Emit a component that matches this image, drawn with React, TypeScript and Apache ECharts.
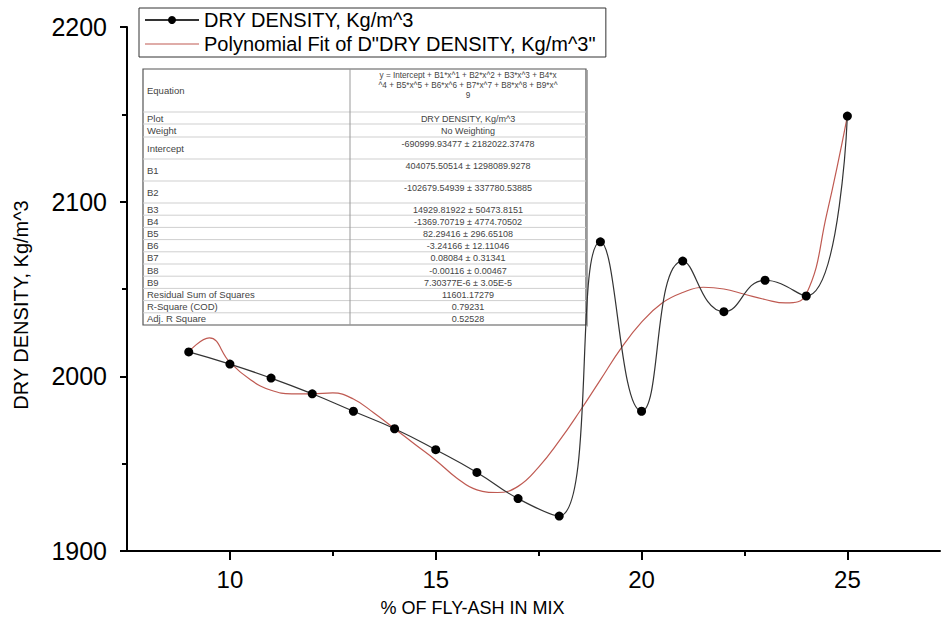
import React, { useEffect, useRef } from "react";
import * as echarts from "echarts";

// ---- data ----
const flyAshPercent = [9, 10, 11, 12, 13, 14, 15, 16, 17, 18, 19, 20, 21, 22, 23, 24, 25];
const dryDensity = [2014, 2007, 1999, 1990, 1980, 1970, 1958, 1945, 1930, 1920, 2077, 1980, 2066, 2037, 2055, 2046, 2149];

// polynomial fit curve
const fitX = [9, 9.5, 10, 10.5, 11, 11.5, 12, 12.5, 13, 13.5, 14, 14.5, 15, 15.5, 16, 16.5, 17, 17.5, 18, 18.5, 19, 19.5, 20, 20.5, 21, 21.5, 22, 22.5, 23, 23.5, 24, 24.5, 25];
const fitY = [2014, 2022, 2008, 1998, 1992, 1990, 1990, 1990.5, 1987, 1979, 1970, 1961, 1952, 1942, 1935, 1933.5, 1937, 1948, 1963, 1980, 1998, 2016, 2031, 2042, 2048, 2051, 2050, 2047, 2044, 2042, 2047, 2093, 2149];

const xMajorTicks = [10, 15, 20, 25];
const xMinorTicks = [12.5, 17.5, 22.5];

const seriesName = "DRY DENSITY, Kg/m^3";
const fitName = 'Polynomial Fit of D"DRY DENSITY, Kg/m^3"';

const tableLabels = [
  "Equation", "Plot", "Weight", "Intercept", "B1", "B2", "B3", "B4", "B5", "B6", "B7", "B8", "B9",
  "Residual Sum of Squares", "R-Square (COD)", "Adj. R Square",
];
const tableValues = [
  "y = Intercept + B1*x^1 + B2*x^2 + B3*x^3 + B4*x\n^4 + B5*x^5 + B6*x^6 + B7*x^7 + B8*x^8 + B9*x^\n9",
  "DRY DENSITY, Kg/m^3",
  "No Weighting",
  "-690999.93477 ± 2182022.37478",
  "404075.50514 ± 1298089.9278",
  "-102679.54939 ± 337780.53885",
  "14929.81922 ± 50473.8151",
  "-1369.70719 ± 4774.70502",
  "82.29416 ± 296.65108",
  "-3.24166 ± 12.11046",
  "0.08084 ± 0.31341",
  "-0.00116 ± 0.00467",
  "7.30377E-6 ± 3.05E-5",
  "11601.17279",
  "0.79231",
  "0.52528",
];

// table layout (pixels)
const rowEdges = [69, 112, 124, 137, 159, 181, 203, 215.2, 227.4, 239.6, 251.8, 264, 276.2, 288.4, 300.6, 312.8, 325];
const TABLE_LEFT = 143;
const TABLE_DIV = 350;
const TABLE_RIGHT = 586;
const FONT = "Arial, 'Liberation Sans', sans-serif";

function buildTable() {
  const children: any[] = [];
  children.push({
    type: "rect",
    shape: { x: TABLE_LEFT, y: rowEdges[0], width: TABLE_RIGHT - TABLE_LEFT, height: rowEdges[rowEdges.length - 1] - rowEdges[0] },
    style: { fill: "#fff", stroke: "#555", lineWidth: 1.2 },
  });
  for (let i = 1; i < rowEdges.length - 1; i++) {
    children.push({
      type: "line",
      shape: { x1: TABLE_LEFT, y1: rowEdges[i], x2: TABLE_RIGHT, y2: rowEdges[i] },
      style: { stroke: "#cfcfcf", lineWidth: 1 },
    });
  }
  children.push({
    type: "line",
    shape: { x1: TABLE_DIV, y1: rowEdges[0], x2: TABLE_DIV, y2: rowEdges[rowEdges.length - 1] },
    style: { stroke: "#999", lineWidth: 1 },
  });
  children.push({
    type: "line",
    shape: { x1: TABLE_RIGHT + 1.5, y1: rowEdges[0] + 1, x2: TABLE_RIGHT + 1.5, y2: rowEdges[rowEdges.length - 1] + 1.5 },
    style: { stroke: "#aaa", lineWidth: 1 },
  });
  tableLabels.forEach((lab, i) => {
    const top = rowEdges[i];
    const bottom = rowEdges[i + 1];
    children.push({
      type: "text",
      x: TABLE_LEFT + 4,
      y: (top + bottom) / 2,
      style: { text: lab, fill: "#444", font: `9.5px ${FONT}`, align: "left", verticalAlign: "middle" },
    });
    children.push({
      type: "text",
      x: (TABLE_DIV + TABLE_RIGHT) / 2,
      y: top + 1,
      style: {
        text: tableValues[i],
        fill: "#444",
        font: `${i === 0 ? 8.2 : 9}px ${FONT}`,
        lineHeight: i === 0 ? 10 : 11,
        align: "center",
        verticalAlign: "top",
      },
    });
  });
  return { type: "group", children };
}

export default function App() {
  const ref = useRef<HTMLDivElement>(null);
  useEffect(() => {
    if (!ref.current) return;
    const chart = echarts.init(ref.current, undefined, { renderer: "svg" });
    const axisLineStyle = { color: "#000", width: 2 };
    chart.setOption({
      animation: false,
      backgroundColor: "#fff",
      textStyle: { fontFamily: FONT },
      grid: { left: 127, right: 2, top: 27, bottom: 74 },
      legend: {
        left: 139,
        top: 8,
        orient: "vertical",
        padding: [2, 10, 3, 5],
        itemGap: 4,
        itemWidth: 54,
        itemHeight: 10,
        borderColor: "#333",
        borderWidth: 1,
        textStyle: { fontSize: 20, color: "#000", fontFamily: FONT, lineHeight: 20 },
        data: [
          { name: seriesName },
          { name: fitName, icon: "path://M0,0L54,0L54,1.2L0,1.2Z" },
        ],
      },
      xAxis: [
        {
          type: "value",
          min: 7.5,
          max: 27.25,
          position: "bottom",
          name: "% OF FLY-ASH IN MIX",
          nameLocation: "middle",
          nameGap: 48,
          nameTextStyle: { fontSize: 18, color: "#000", padding: [0, 122, 0, 0] },
          axisLine: { show: true, onZero: false, lineStyle: axisLineStyle },
          axisTick: { show: true, inside: false, customValues: xMajorTicks, length: 9, lineStyle: axisLineStyle },
          axisLabel: { customValues: xMajorTicks, fontSize: 24, color: "#000", margin: 16 },
          splitLine: { show: false },
        },
        {
          type: "value",
          min: 7.5,
          max: 27.25,
          position: "bottom",
          axisLine: { show: false },
          axisTick: { show: true, inside: false, customValues: xMinorTicks, length: 5, lineStyle: axisLineStyle },
          axisLabel: { show: false },
          splitLine: { show: false },
        },
      ],
      yAxis: {
        type: "value",
        min: 1900,
        max: 2200,
        interval: 100,
        name: "DRY DENSITY, Kg/m^3",
        nameLocation: "middle",
        nameGap: 96,
        nameTextStyle: { fontSize: 20, color: "#000", padding: [0, 32, 0, 0] },
        axisLine: { show: true, onZero: false, lineStyle: axisLineStyle },
        axisTick: { show: true, inside: false, length: 7, lineStyle: axisLineStyle },
        minorTick: { show: true, splitNumber: 2, length: 5, lineStyle: axisLineStyle },
        axisLabel: { fontSize: 25, color: "#000", margin: 20, formatter: (v: number) => String(v) },
        splitLine: { show: false },
        minorSplitLine: { show: false },
      },
      series: [
        {
          name: fitName,
          type: "line",
          xAxisIndex: 0,
          data: fitX.map((x, i) => [x, fitY[i]]),
          smooth: 0.45,
          symbol: "none",
          color: "#bf5a52",
          lineStyle: { color: "#bf5a52", width: 1.2 },
          z: 2,
        },
        {
          name: seriesName,
          type: "line",
          xAxisIndex: 0,
          data: flyAshPercent.map((x, i) => [x, dryDensity[i]]),
          smooth: 0.5,
          symbol: "circle",
          symbolSize: 9,
          color: "#000",
          itemStyle: { color: "#000" },
          lineStyle: { color: "#333", width: 1.2 },
          z: 3,
        },
      ],
      graphic: [buildTable()],
    });
    return () => chart.dispose();
  }, []);
  return (
    <div
      ref={ref}
      style={{ position: "fixed", left: 0, top: 0, width: 942, height: 625, background: "#fff" }}
    />
  );
}
